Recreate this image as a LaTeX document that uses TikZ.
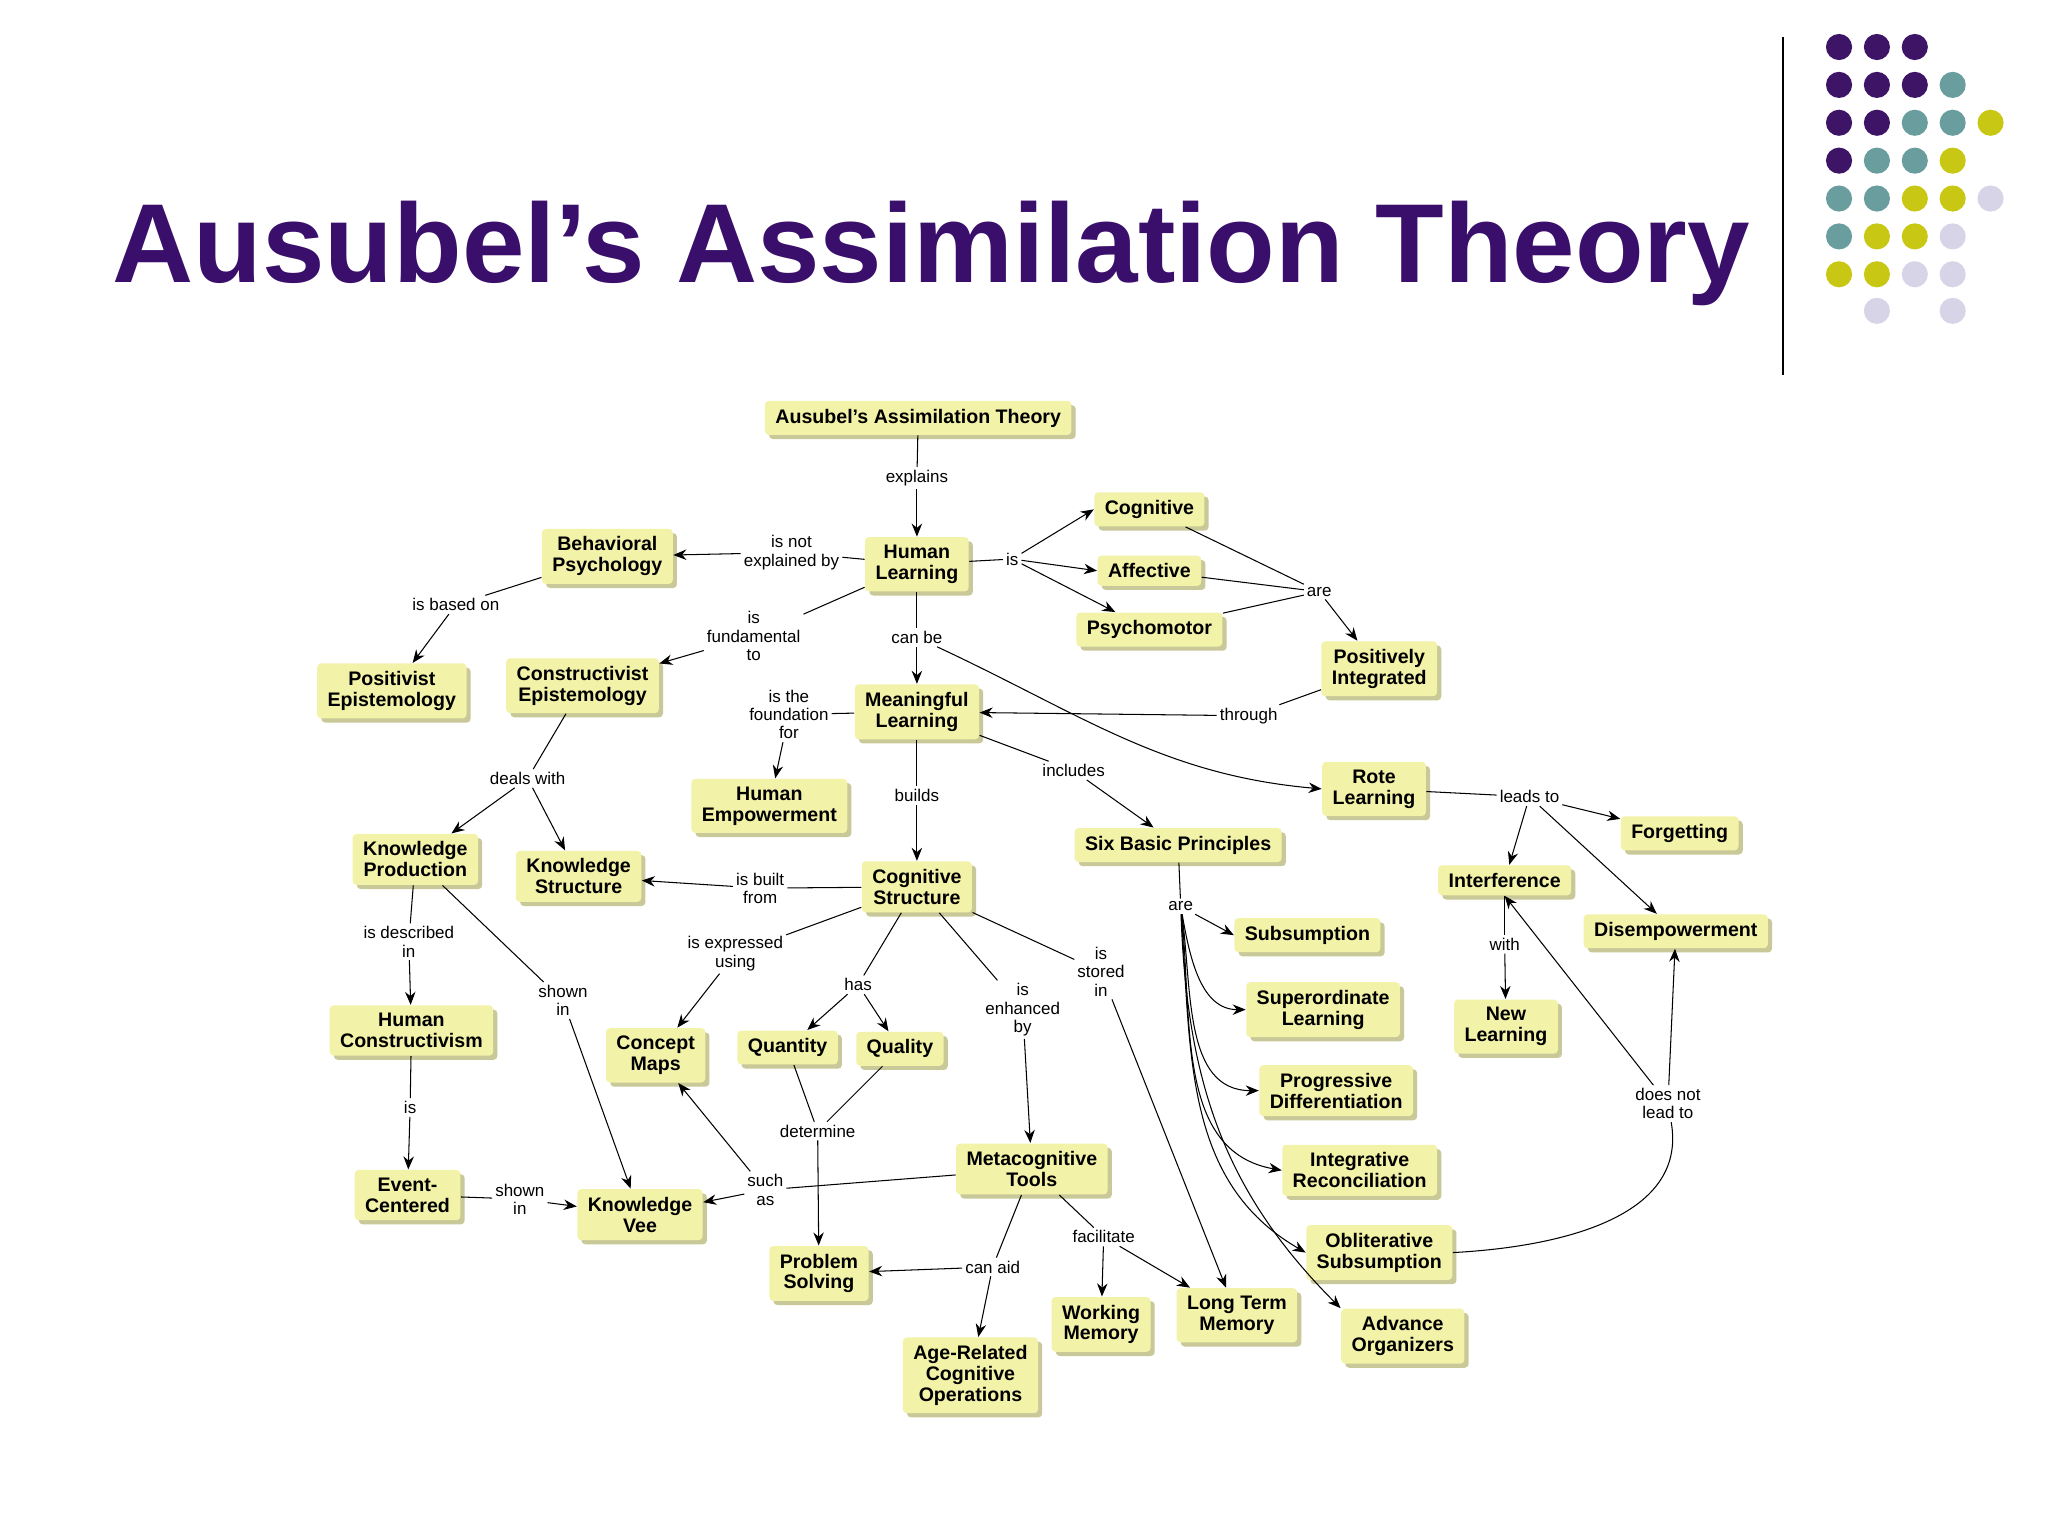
\documentclass[tikz,border=0pt]{standalone}
\usepackage{fontspec}
\setmainfont{Liberation Sans}
\setsansfont{Liberation Sans}
\usetikzlibrary{shadows,arrows.meta}
\definecolor{boxy}{HTML}{F2F2A8}
\definecolor{shad}{HTML}{C8C898}
\definecolor{ttl}{HTML}{3A0F6B}
\definecolor{dP}{HTML}{3D1466}
\definecolor{dT}{HTML}{6A9E9E}
\definecolor{dY}{HTML}{C8C814}
\definecolor{dL}{HTML}{D8D4E8}
\begin{document}
\begin{tikzpicture}[x=0.5pt,y=-0.5pt,
 c/.style={fill=boxy, rounded corners=1.5pt, font=\sffamily\bfseries\fontsize{7.5}{8}\selectfont, align=center, inner xsep=4pt, inner ysep=3pt, drop shadow={shadow xshift=1.6pt,shadow yshift=-1.6pt,fill=shad,opacity=1}},
 l/.style={fill=white, font=\sffamily\fontsize{6.5}{7}\selectfont, align=center, inner sep=1pt},
 a/.style={-{Stealth[length=5pt,width=4pt]}},
 dot/.style={circle,inner sep=0pt,minimum size=10pt}]
\path[use as bounding box,fill=white] (0,0) rectangle (1568,1176);
\node[font=\sffamily\bfseries\fontsize{43}{47}\selectfont, text=ttl] (title) at (713,194) {Ausubel’s Assimilation Theory};
\coordinate (v1) at (1365,28); \coordinate (v2) at (1365,287);
\draw[line width=0.8pt] (v1) -- (v2);
% dots
\foreach \x/\y/\c in {1408/36/dP,1437/36/dP,1466/36/dP,
1408/65/dP,1437/65/dP,1466/65/dP,1495/65/dT,
1408/94/dP,1437/94/dP,1466/94/dT,1495/94/dT,1524/94/dY,
1408/123/dP,1437/123/dT,1466/123/dT,1495/123/dY,
1408/152/dT,1437/152/dT,1466/152/dY,1495/152/dY,1524/152/dL,
1408/181/dT,1437/181/dY,1466/181/dY,1495/181/dL,
1408/210/dY,1437/210/dY,1466/210/dL,1495/210/dL,
1437/238/dL,1495/238/dL}
 \node[dot,fill=\c] (d\x-\y) at (\x,\y) {};
% nodes
\node[c] (A) at (703,320) {Ausubel's Assimilation Theory};
\node[c] (HL) at (702,432) {Human\\Learning};
\node[c] (BP) at (465,426) {Behavioral\\Psychology};
\node[c] (Cog) at (880,390) {Cognitive};
\node[c] (Aff) at (880,437) {Affective};
\node[c] (Psy) at (880,482) {Psychomotor};
\node[c] (PI) at (1056,512) {Positively\\Integrated};
\node[c] (PE) at (300,529) {Positivist\\Epistemology};
\node[c] (CE) at (446,525) {Constructivist\\Epistemology};
\node[c] (ML) at (702,545) {Meaningful\\Learning};
\node[c] (HE) at (589,617) {Human\\Empowerment};
\node[c] (RL) at (1052,604) {Rote\\Learning};
\node[c] (Forg) at (1286,638) {Forgetting};
\node[c] (SBP) at (902,647) {Six Basic Principles};
\node[c] (KP) at (318,658) {Knowledge\\Production};
\node[c] (KS) at (443,671) {Knowledge\\Structure};
\node[c] (CS) at (702,679) {Cognitive\\Structure};
\node[c] (Int) at (1152,674) {Interference};
\node[c] (Dis) at (1283,713) {Disempowerment};
\node[c] (Sub) at (1001,716) {Subsumption};
\node[c] (SL) at (1013,773) {Superordinate\\Learning};
\node[c] (NL) at (1153,786) {New\\Learning};
\node[c] (HC) at (315,789) {Human\\Constructivism};
\node[c] (CM) at (502,808) {Concept\\Maps};
\node[c] (Qn) at (603,802) {Quantity};
\node[c] (Ql) at (689,803) {Quality};
\node[c] (PD) at (1023,835) {Progressive\\Differentiation};
\node[c] (MT) at (790,895) {Metacognitive\\Tools};
\node[c] (IR) at (1041,896) {Integrative\\Reconciliation};
\node[c] (EC) at (312,915) {Event-\\Centered};
\node[c] (KV) at (490,930) {Knowledge\\Vee};
\node[c] (PS) at (627,975) {Problem\\Solving};
\node[c] (OS) at (1056,959) {Obliterative\\Subsumption};
\node[c] (WM) at (843,1014) {Working\\Memory};
\node[c] (LTM) at (947,1007) {Long Term\\Memory};
\node[c] (AO) at (1074,1023) {Advance\\Organizers};
\node[c] (ARC) at (743,1053) {Age-Related\\Cognitive\\Operations};
% labels
\node[l] (explains) at (702,366) {explains};
\node[l] (ine) at (606,423) {is not\\explained by};
\node[l] (is1) at (775,428) {is};
\node[l] (are1) at (1010,453) {are};
\node[l] (ibo) at (349,463) {is based on};
\node[l] (ift) at (577,487) {is\\fundamental\\to};
\node[l] (canbe) at (702,488) {can be};
\node[l] (through) at (956,548) {through};
\node[l] (itf) at (604,547) {is the\\foundation\\for};
\node[l] (builds) at (702,609) {builds};
\node[l] (includes) at (822,590) {includes};
\node[l] (dw) at (404,596) {deals with};
\node[l] (lt) at (1171,610) {leads to};
\node[l] (ibf) at (582,680) {is built\\from};
\node[l] (are2) at (904,694) {are};
\node[l] (with) at (1152,723) {with};
\node[l] (idi) at (313,721) {is described\\in};
\node[l] (si1) at (431,766) {shown\\in};
\node[l] (ieu) at (563,730) {is expressed\\using};
\node[l] (has) at (657,754) {has};
\node[l] (ieb) at (783,773) {is\\enhanced\\by};
\node[l] (isi) at (843,744) {is\\stored\\in};
\node[l] (dnl) at (1277,845) {does not\\lead to};
\node[l] (is2) at (314,848) {is};
\node[l] (det) at (626,866) {determine};
\node[l] (si2) at (398,918) {shown\\in};
\node[l] (sa) at (586,911) {such\\as};
\node[l] (fac) at (845,947) {facilitate};
\node[l] (ca) at (760,970) {can aid};
% connectors
\draw (A) -- (explains); \draw[a] (explains) -- (HL);
\draw (HL) -- (ine); \draw[a] (ine) -- (BP);
\draw (HL) -- (is1); \draw[a] (is1) -- (Cog.west); \draw[a] (is1) -- (Aff.west); \draw[a] (is1) -- (Psy);
\draw (Cog) -- (are1); \draw (Aff) -- (are1); \draw (Psy) -- (are1); \draw[a] (are1) -- (PI);
\draw (BP) -- (ibo); \draw[a] (ibo) -- (PE);
\draw (HL) -- (ift); \draw[a] (ift) -- (CE);
\draw (HL) -- (canbe); \draw[a] (canbe) -- (ML);
\draw[a] (canbe) to[out=-25,in=175] (RL.west);
\draw (PI) -- (through); \draw[a] (through) -- (ML);
\draw (ML) -- (itf); \draw[a] (itf) -- (HE);
\draw (ML) -- (builds); \draw[a] (builds) -- (CS);
\draw (ML) -- (includes); \draw[a] (includes) -- (SBP);
\draw (CE) -- (dw); \draw[a] (dw) -- (KP); \draw[a] (dw) -- (KS);
\draw (RL) -- (lt); \draw[a] (lt) -- (Forg); \draw[a] (lt) -- (Int); \draw[a] (lt) -- (Dis);
\draw (CS) -- (ibf); \draw[a] (ibf) -- (KS);
\draw (SBP) -- (are2);
\draw[a] (are2) -- (Sub.west);
\draw[a] (are2) to[out=-80,in=180] (SL.west);
\draw[a] (are2) to[out=-82,in=180] (PD.west);
\draw[a] (are2) to[out=-84,in=170] (IR.west);
\draw[a] (are2) to[out=-86,in=150] (OS.west);
\draw[a] (are2) to[out=-88,in=135] (AO.north west);
\draw (Int) -- (with); \draw[a] (with) -- (NL);
\draw (KP) -- (idi); \draw[a] (idi) -- (HC);
\draw (KP) -- (si1); \draw[a] (si1) -- (KV);
\draw (CS) -- (ieu); \draw[a] (ieu) -- (CM);
\draw (CS) -- (has); \draw[a] (has) -- (Qn); \draw[a] (has) -- (Ql);
\draw (CS) -- (ieb); \draw[a] (ieb) -- (MT);
\draw (CS) -- (isi); \draw[a] (isi) -- (LTM);
\draw (OS.east) to[out=3,in=-80] (dnl); \draw[a] (dnl) -- (Dis); \draw[a] (dnl) -- (Int.south);
\draw (HC) -- (is2); \draw[a] (is2) -- (EC);
\draw (Qn) -- (det); \draw (Ql) -- (det); \draw[a] (det) -- (PS);
\draw (EC) -- (si2); \draw[a] (si2) -- (KV);
\draw (MT) -- (sa); \draw[a] (sa) -- (CM); \draw[a] (sa) -- (KV);
\draw (MT) -- (fac); \draw[a] (fac) -- (WM); \draw[a] (fac) -- (LTM);
\draw (MT) -- (ca); \draw[a] (ca) -- (PS); \draw[a] (ca) -- (ARC);
\end{tikzpicture}
\end{document}
